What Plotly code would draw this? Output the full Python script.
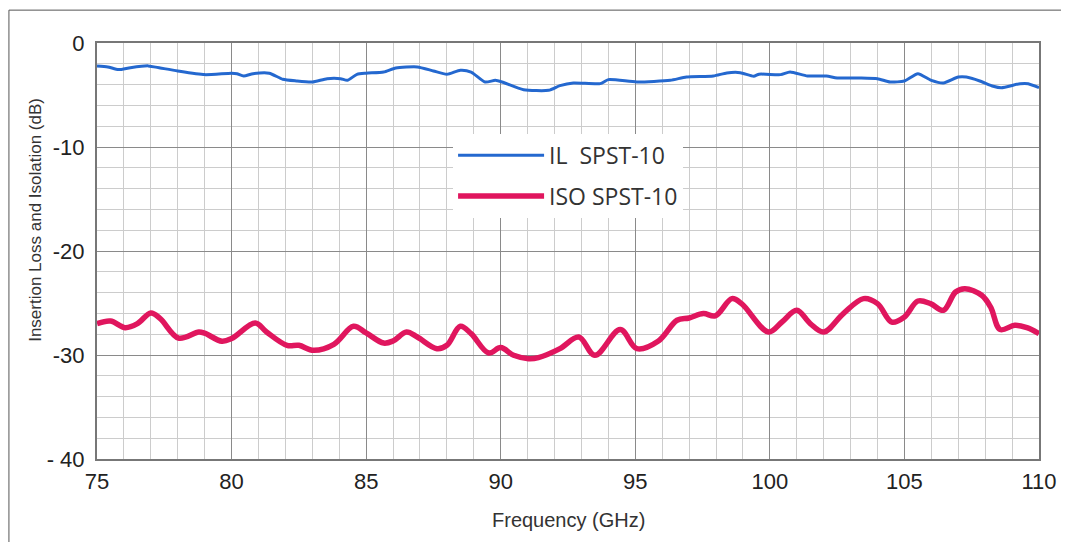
import plotly.graph_objects as go

# Insertion loss (IL SPST-10)
il_freq = [75.0, 75.4, 75.8, 76.24, 76.9, 77.35, 78.0, 79.0, 80.0, 80.2, 80.45, 80.8, 81.4, 81.9,
           82.4, 83.0, 83.55, 84.05, 84.3, 84.66, 85.0, 85.65, 86.1, 86.9, 87.5, 88.0, 88.5,
           88.9, 89.42, 89.8, 90.05, 90.85, 91.78, 92.2, 92.7, 93.7, 94.0, 95.06, 96.3, 96.9,
           97.9, 98.4, 98.9, 99.4, 99.6, 100.4, 100.75, 101.4, 102.1, 102.5, 103.35, 104.0,
           104.47, 105.0, 105.5, 106.0, 106.45, 107.0, 107.3, 107.8, 108.3, 108.6, 109.3,
           109.6, 110.0]
il_db = [-2.2, -2.3, -2.56, -2.37, -2.2, -2.4, -2.69, -3.04, -2.9, -2.95, -3.17, -2.95, -2.9,
         -3.49, -3.65, -3.75, -3.43, -3.43, -3.59, -3.01, -2.9, -2.79, -2.4, -2.3, -2.69, -3.01,
         -2.62, -2.79, -3.75, -3.59, -3.75, -4.49, -4.55, -4.1, -3.84, -3.91, -3.52, -3.75,
         -3.59, -3.27, -3.17, -2.88, -2.85, -3.2, -3.0, -3.04, -2.79, -3.17, -3.17, -3.36,
         -3.36, -3.43, -3.75, -3.65, -2.95, -3.59, -3.84, -3.27, -3.27, -3.65, -4.16, -4.3,
         -3.91, -3.91, -4.3]

# Isolation (ISO SPST-10)
iso_freq = [75.0, 75.5, 76.05, 76.5, 77.0, 77.35, 78.03, 78.78, 79.0, 79.64, 80.0, 80.88, 81.3,
            82.06, 82.5, 83.05, 83.8, 84.53, 85.0, 85.65, 86.0, 86.5, 86.9, 87.63, 88.0, 88.5,
            88.9, 89.55, 90.0, 90.48, 91.03, 91.4, 92.2, 92.9, 93.5, 94.44, 95.06, 95.86,
            96.55, 97.0, 97.53, 97.97, 98.59, 98.95, 99.95, 100.45, 101.0, 101.5, 102.0,
            102.73, 103.48, 104.0, 104.53, 105.0, 105.5, 105.97, 106.45, 106.9, 107.25,
            107.87, 108.2, 108.56, 109.1, 109.55, 110.0]
iso_db = [-26.98, -26.73, -27.37, -26.98, -25.96, -26.5, -28.37, -27.79, -27.9, -28.68, -28.42,
          -26.92, -27.79, -29.07, -29.07, -29.55, -28.97, -27.24, -27.88, -28.85, -28.65,
          -27.79, -28.27, -29.39, -29.07, -27.24, -27.95, -29.81, -29.29, -30.03, -30.35,
          -30.25, -29.39, -28.27, -30.03, -27.56, -29.39, -28.65, -26.66, -26.44, -26.02,
          -26.24, -24.58, -25.06, -27.79, -26.83, -25.7, -26.98, -27.79, -26.02, -24.58,
          -25.06, -26.83, -26.34, -24.81, -25.06, -25.7, -23.94, -23.62, -24.26, -25.38,
          -27.56, -27.14, -27.37, -27.95]

x_ticks = [75, 80, 85, 90, 95, 100, 105, 110]
y_ticks = [-40, -30, -20, -10, 0]
y_tick_text = ["- 40", "-30", "-20", "-10", "0"]

x_title = "Frequency (GHz)"
y_title = "Insertion Loss and Isolation (dB)"

FONT = "Liberation Sans, Arial, sans-serif"

fig = go.Figure()
fig.add_trace(go.Scatter(x=il_freq, y=il_db, mode="lines", name="IL\u00a0\u00a0SPST-10",
                         legendgroup="a",
                         line=dict(color="#2468cf", width=3, shape="spline", smoothing=0.6)))
fig.add_trace(go.Scatter(x=iso_freq, y=iso_db, mode="lines", name="ISO SPST-10",
                         legendgroup="b",
                         line=dict(color="#e0165e", width=5.5, shape="spline", smoothing=1.0)))

# page is shown with an 8px body margin, so the figure is sized/offset accordingly
fig.update_layout(
    width=1061, height=534,
    margin=dict(l=89, r=30, t=35, b=83),
    paper_bgcolor="white", plot_bgcolor="white",
    font=dict(family=FONT, color="#222"),
    showlegend=True,
    legend=dict(x=0.378, y=0.782, xanchor="left", yanchor="top",
                bgcolor="white", borderwidth=0, itemwidth=86,
                font=dict(family="Open Sans, sans-serif", size=23, color="#333"),
                traceorder="grouped", tracegroupgap=8),
    xaxis=dict(range=[75, 110], tickvals=x_ticks, ticks="", showline=True,
               linecolor="#777", linewidth=2, mirror=True,
               showgrid=True, gridcolor="#8a8a8a", gridwidth=1,
               minor=dict(dtick=1, tick0=75, showgrid=True, gridcolor="#cccccc", gridwidth=1),
               tickfont=dict(size=22, color="#222"), zeroline=False, ticklabelstandoff=2),
    yaxis=dict(range=[-40, 0], tickvals=y_ticks, ticktext=y_tick_text, ticks="", showline=True,
               linecolor="#777", linewidth=2, mirror=True,
               showgrid=True, gridcolor="#8a8a8a", gridwidth=1,
               minor=dict(dtick=2, tick0=0, showgrid=True, gridcolor="#cccccc", gridwidth=1),
               tickfont=dict(size=22, color="#222"), zeroline=False, ticklabelstandoff=6),
    annotations=[
        dict(text=x_title, xref="paper", yref="paper", x=0.5, y=-0.147,
             xanchor="center", yanchor="middle", showarrow=False,
             font=dict(family=FONT, size=20, color="#333")),
        dict(text=y_title, xref="paper", yref="paper", x=-0.066, y=0.5745,
             xanchor="center", yanchor="middle", showarrow=False, textangle=-90,
             font=dict(family=FONT, size=17, color="#333")),
    ],
    shapes=[dict(type="rect", xref="paper", yref="paper",
                 x0=-0.0935, x1=1.0265, y0=-0.21, y1=1.079,
                 line=dict(color="#555", width=1), fillcolor="rgba(0,0,0,0)", layer="below")],
)

fig.write_html("out.html")
